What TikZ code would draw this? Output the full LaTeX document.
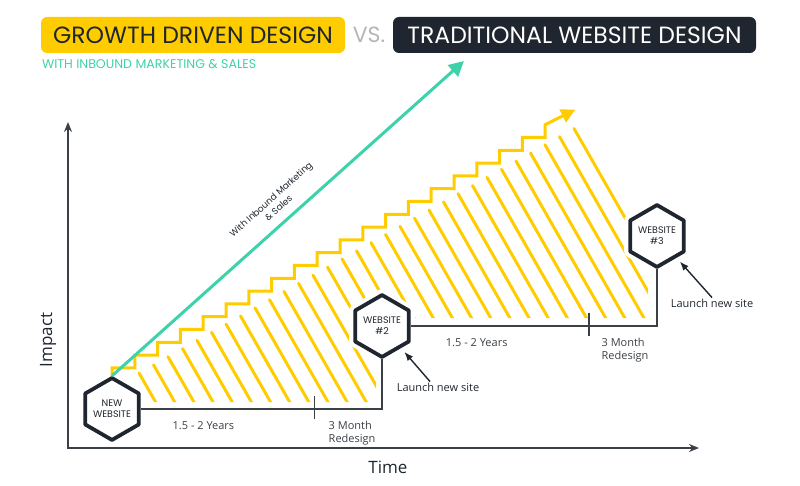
\documentclass[tikz,border=0pt]{standalone}
\usepackage{fontspec}
\setmainfont{Open Sans}
\newfontfamily\headfont{Poppins}
\usetikzlibrary{arrows.meta,shapes.geometric,positioning,calc}

\definecolor{gddyellow}{HTML}{FFCC00}
\definecolor{gddteal}{HTML}{3ED2AA}
\definecolor{gddnavy}{HTML}{1F262F}
\definecolor{axisgrey}{HTML}{3B4047}
\definecolor{vsgrey}{HTML}{B5B5B5}

\pgfdeclarelayer{hatch}
\pgfsetlayers{hatch,main}

\begin{document}
\begin{tikzpicture}[
  x=1pt, y=-1pt, >={Latex[length=9pt,width=7pt]},
  font=\fontsize{11}{13}\selectfont, text=gddnavy,
  banner/.style={rounded corners=6pt, minimum height=36pt, inner sep=0pt,
    font=\headfont\fontsize{23.5}{25}\selectfont},
  hexsite/.style={regular polygon, regular polygon sides=6, shape border rotate=30,
    minimum size=58pt, inner sep=0pt, draw=gddnavy, line width=3.8pt, line join=round,
    fill=white, align=center, font=\headfont\fontsize{9.5}{11}\selectfont,
    preaction={draw=white, line width=12pt}},
  stairline/.style={gddyellow, line width=3pt},
  hatchline/.style={gddyellow, line width=3pt, line cap=round},
  inboundline/.style={gddteal, line width=3pt},
  timeline/.style={axisgrey, line width=1.6pt},
  pointer/.style={->, gddnavy, line width=1.4pt, shorten >=5pt},
  axislabel/.style={font=\fontsize{17}{19}\selectfont},
  note/.style={align=left, inner sep=1pt},
]
  \useasboundingbox (0,0) rectangle (800,486);

  \node[banner, fill=gddyellow, minimum width=304pt] (gdd) at (193,35) {GROWTH DRIVEN DESIGN};
  \node[banner, fill=gddnavy, text=white, minimum width=363pt] (trad) at (574.5,35) {TRADITIONAL WEBSITE DESIGN};
  \node[font=\headfont\fontsize{22}{24}\selectfont, text=vsgrey] (vs) at ($(gdd.east)!0.5!(trad.west)$) {VS.};
  \node[font=\headfont\fontsize{12.6}{14}\selectfont, text=gddteal, inner sep=0pt,
    below right=6pt and 1pt of gdd.south west] (subtitle) {WITH INBOUND MARKETING \& SALES};

  \coordinate (ytip) at (68,122);
  \coordinate (xtip) at (699,448);
  \draw[timeline, {Stealth[length=10pt,width=8pt]}-{Stealth[length=10pt,width=8pt]}] (ytip) |- (xtip);
  \node[axislabel, rotate=90] (impact) at (48,340) {Impact};
  \node[axislabel] (time) at (388,467) {Time};

  \begin{pgfonlayer}{hatch}
    \begin{scope}
      \clip (90,0) -- (648,0) -- (648,318) -- (376,318) -- (376,402) -- (90,402) -- cycle;
      \foreach \i in {0,...,30}
        \draw[hatchline] (139+14.5*\i, 373-8.15*\i) -- ++(200,350);
    \end{scope}
  \end{pgfonlayer}

  \node[hexsite] (hex1) at (112,409) {NEW\\WEBSITE};
  \node[hexsite] (hex2) at (382,326) {WEBSITE\\\#2};
  \node[hexsite] (hex3) at (657,236) {WEBSITE\\\#3};

  \draw[stairline, -{Triangle[length=14pt,width=14pt]}] (hex1.north) -- ++(0,-8)
    \foreach \k in {1,...,19} { -- ++(22.8,0) -- ++(0,-12.8) } -- ++(30,-15);

  \coordinate (inboundtip) at (464,61);
  \draw[inboundline, -{Triangle[length=15pt,width=15pt]}] (hex1.north) -- (inboundtip)
    node[pos=0.5, sloped, above=6pt, align=center, text=gddnavy,
      font=\headfont\fontsize{9}{11.5}\selectfont] (inboundlabel) {With Inbound Marketing\\\& Sales};

  \draw[timeline] (hex1.east) -| (hex2.south) coordinate[pos=0.36] (redesign1)
    node[pos=0.13, below=8pt] (years1) {1.5 - 2 Years}
    node[pos=0.438, below=8pt, align=left] (month1) {3 Month\\Redesign};
  \draw[timeline] (redesign1) ++(0,-13) -- ++(0,23);

  \draw[timeline] (hex2.east) -| (hex3.south) coordinate[pos=0.362] (redesign2)
    node[pos=0.134, below=8pt] (years2) {1.5 - 2 Years}
    node[pos=0.435, below=8pt, align=left] (month2) {3 Month\\Redesign};
  \draw[timeline] (redesign2) ++(0,-13) -- ++(0,23);

  \node[note] (launch1) at (438,387) {Launch new site};
  \node[note] (launch2) at (712,303) {Launch new site};
  \draw[pointer] ([xshift=-8pt]launch1.north) -- (hex2);
  \draw[pointer] (launch2.north) -- (hex3);
\end{tikzpicture}
\end{document}
